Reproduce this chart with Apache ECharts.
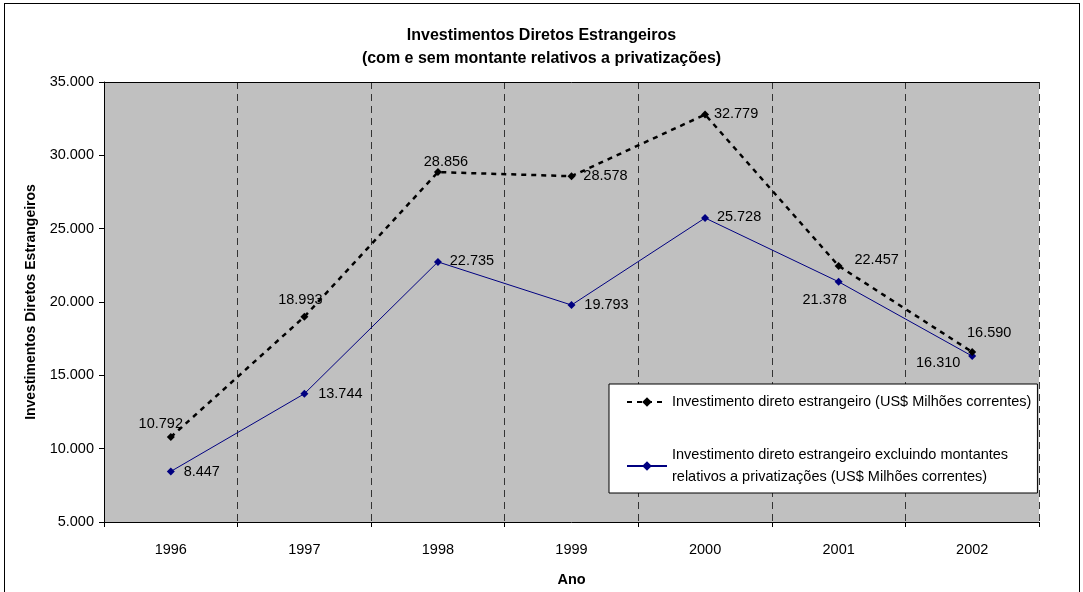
<!DOCTYPE html>
<html>
<head>
<meta charset="utf-8">
<script src="https://cdn.jsdelivr.net/npm/echarts@6/dist/echarts.min.js"></script>
<style>
  html, body { margin: 0; padding: 0; background: #fff; overflow: hidden; }
  #chart { position: absolute; left: 0; top: 0; width: 1083px; height: 592px; }
  #frame { position: absolute; left: 4px; top: 3px; width: 1074px; height: 600px; border: 1px solid #000; pointer-events: none; }
</style>
</head>
<body>
<div id="chart"></div>
<div id="frame"></div>
<script>
const titleLines = ['Investimentos Diretos Estrangeiros', '(com e sem montante relativos a privatizações)'];
const categories = ['1996', '1997', '1998', '1999', '2000', '2001', '2002'];
const seriesTotalName = 'Investimento direto estrangeiro (US$ Milhões correntes)';
const seriesExclName = 'Investimento direto estrangeiro excluindo montantes\nrelativos a privatizações (US$ Milhões correntes)';
const seriesTotal = [10792, 18993, 28856, 28578, 32779, 22457, 16590];
const seriesExcl = [8447, 13744, 22735, 19793, 25728, 21378, 16310];
const yAxisName = 'Investimentos Diretos Estrangeiros';
const xAxisName = 'Ano';

// label placement (offsets of label centre from point), styling only
const totalLabelOffsets = [[-10, -13], [-4, -17], [8, -10], [34, 0], [31, -1], [38, -6], [17, -19]];
const exclLabelOffsets = [[31, 1], [36, 0], [34, -1], [35, 0], [34, -1], [-14, 18], [-34, 7]];

const FONT = '"Liberation Sans", Arial, sans-serif';
const FS = 14.5;
function fmt(v) {
  return String(Math.round(v)).replace(/\B(?=(\d{3})+(?!\d))/g, '.');
}
function buildData(values, offsets) {
  return values.map((v, i) => ({
    value: v,
    label: { position: 'inside', align: 'center', verticalAlign: 'middle', offset: offsets[i] }
  }));
}

const chart = echarts.init(document.getElementById('chart'), null, { renderer: 'canvas' });
chart.setOption({
  animation: false,
  backgroundColor: '#fff',
  textStyle: { fontFamily: FONT },
  title: {
    text: titleLines.join('\n'),
    left: 'center',
    top: 19,
    textStyle: { fontFamily: FONT, fontSize: 16, fontWeight: 'bold', color: '#000', lineHeight: 23 }
  },
  legend: {
    orient: 'vertical',
    left: 609,
    top: 384,
    width: 420,
    backgroundColor: '#fff',
    borderColor: '#000',
    borderWidth: 1,
    borderRadius: 0,
    padding: [7, 6, 5, 17],
    itemGap: 31,
    itemWidth: 40,
    itemHeight: 12,
    textStyle: { fontFamily: FONT, fontSize: FS, color: '#000', lineHeight: 22 },
    data: [seriesTotalName, seriesExclName]
  },
  grid: {
    left: 104, right: 44, top: 82, bottom: 70,
    show: true, backgroundColor: '#C0C0C0', borderWidth: 0
  },
  xAxis: [{
    type: 'category',
    data: categories,
    boundaryGap: true,
    name: xAxisName,
    nameLocation: 'middle',
    nameGap: 50,
    nameTextStyle: { fontFamily: FONT, fontSize: FS, fontWeight: 'bold', color: '#000' },
    axisLine: { show: true, lineStyle: { color: '#000', width: 1 } },
    axisTick: { show: true, length: 5, lineStyle: { color: '#000' } },
    axisLabel: { color: '#000', fontSize: FS, fontFamily: FONT, margin: 20 },
    splitLine: { show: true, lineStyle: { color: '#333', type: [7, 5], width: 1 } }
  }, {
    type: 'category',
    data: categories,
    position: 'top',
    boundaryGap: true,
    axisLine: { show: true, lineStyle: { color: '#000', width: 1 } },
    axisTick: { show: false },
    axisLabel: { show: false },
    splitLine: { show: false }
  }],
  yAxis: {
    type: 'value',
    min: 5000,
    max: 35000,
    interval: 5000,
    name: yAxisName,
    nameLocation: 'middle',
    nameGap: 66,
    nameTextStyle: { fontFamily: FONT, fontSize: 14, fontWeight: 'bold', color: '#000' },
    axisLine: { show: true, lineStyle: { color: '#000', width: 1 } },
    axisTick: { show: true, length: 5, lineStyle: { color: '#000' } },
    axisLabel: { color: '#000', fontSize: FS, fontFamily: FONT, margin: 10, formatter: fmt },
    splitLine: { show: false }
  },
  series: [{
    name: seriesTotalName,
    type: 'line',
    xAxisIndex: 0,
    data: buildData(seriesTotal, totalLabelOffsets),
    symbol: 'diamond',
    symbolSize: 8,
    itemStyle: { color: '#000' },
    lineStyle: { color: '#000', width: 2.5, type: [5, 5] },
    label: { show: true, color: '#000', fontSize: FS, fontFamily: FONT, formatter: p => fmt(p.value) },
    z: 3
  }, {
    name: seriesExclName,
    type: 'line',
    xAxisIndex: 0,
    data: buildData(seriesExcl, exclLabelOffsets),
    symbol: 'diamond',
    symbolSize: 8,
    itemStyle: { color: '#000080' },
    lineStyle: { color: '#000080', width: 1 },
    label: { show: true, color: '#000', fontSize: FS, fontFamily: FONT, formatter: p => fmt(p.value) },
    z: 2
  }]
});
</script>
</body>
</html>
